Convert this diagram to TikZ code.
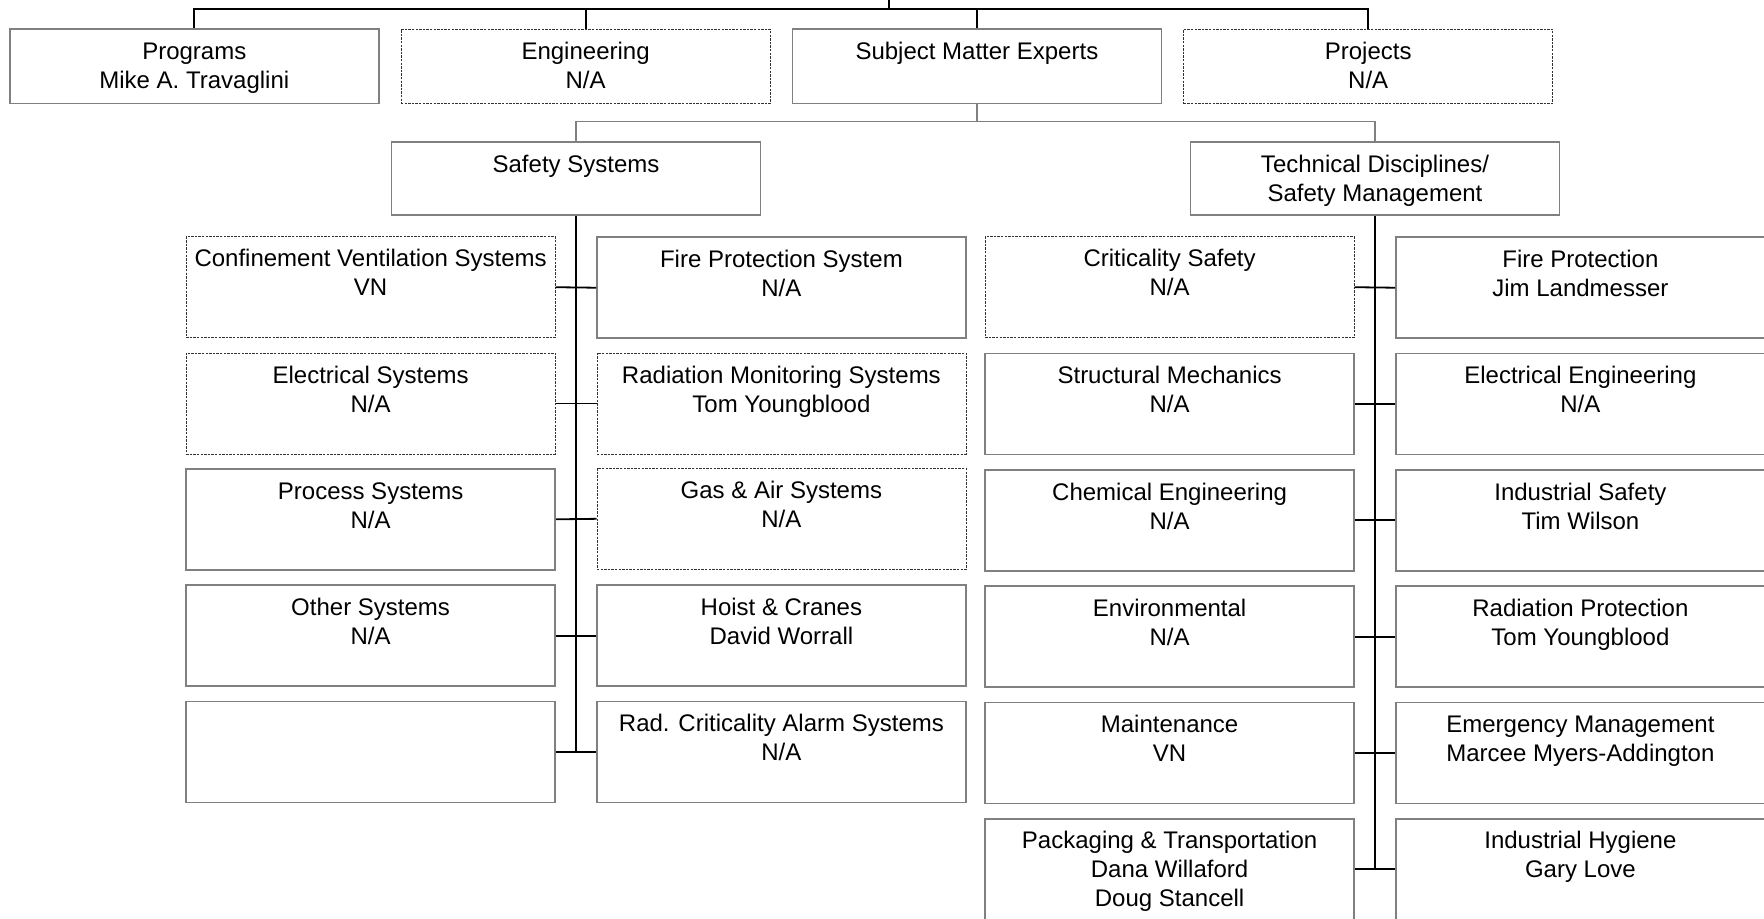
\documentclass[tikz,border=0pt]{standalone}
\usepackage{fontspec}
\setmainfont{Liberation Sans}
\usetikzlibrary{positioning}

% top-aligned text in a box of fixed size
\newcommand{\orgcell}[2][50.5pt]{\parbox[c][#1][t]{184.5pt}{\centering\rule{0pt}{15.1pt}#2}}

\begin{document}
\begin{tikzpicture}[x=1pt, y=1pt, font=\fontsize{12}{14.5}\selectfont,
  unit/.style={draw=black!50, line width=0.9pt, inner sep=0pt, fill=white},
  vacant/.style={draw=black!80, line width=0.4pt, dash pattern=on 1.2pt off 0.6pt},
  link/.style={line width=0.9pt},
  sublink/.style={draw=black!50, line width=0.9pt}]

  \useasboundingbox (0,0) rectangle (882,-459);

  \matrix[nodes={unit}, column sep=10.5pt, inner sep=0pt] at (390.5,-33.125) {
   \node (prog) {\orgcell[37.25pt]{Programs\\Mike A. Travaglini}};
   &
   \node[vacant] (eng) {\orgcell[37.25pt]{Engineering\\N/A}};
   &
   \node (sme) {\orgcell[37.25pt]{Subject Matter Experts}};
   &
   \node[vacant] (proj) {\orgcell[37.25pt]{Projects\\N/A}}; \\
  };

  \node[unit] (sys) at (288,-89.25) {\orgcell[36.5pt]{Safety Systems}};
  \node[unit] (tech) at (687.5,-89.25) {\orgcell[36.5pt]{Technical Disciplines/\\Safety Management}};

  \matrix (safe) [below=10pt of sys, nodes={unit}, row sep=6.75pt, column sep=20pt, inner sep=0pt] {
   \node[vacant] (cvs) {\orgcell{Confinement Ventilation Systems\\VN}}; &
   \node (fps) {\orgcell{Fire Protection System\\N/A}}; \\
   \node[vacant] (els) {\orgcell{Electrical Systems\\N/A}}; &
   \node[vacant] (rms) {\orgcell{Radiation Monitoring Systems\\Tom Youngblood}}; \\
   \node (prs) {\orgcell{Process Systems\\N/A}}; &
   \node[vacant] (gas) {\orgcell{Gas \& Air Systems\\N/A}}; \\
   \node (oth) {\orgcell{Other Systems\\N/A}}; &
   \node (hoist) {\orgcell{Hoist \& Cranes\\David Worrall}}; \\
   \node (blank) {\orgcell{}}; &
   \node (rcas) {\orgcell{Rad. Criticality Alarm Systems\\N/A}}; \\
  };

  \matrix (disc) [below=10pt of tech, nodes={unit}, row sep=6.75pt, column sep=20pt, inner sep=0pt] {
   \node[vacant] (crit) {\orgcell{Criticality Safety\\N/A}}; &
   \node (fire) {\orgcell{Fire Protection\\Jim Landmesser}}; \\
   \node (struct) {\orgcell{Structural Mechanics\\N/A}}; &
   \node (eleng) {\orgcell{Electrical Engineering\\N/A}}; \\
   \node (chem) {\orgcell{Chemical Engineering\\N/A}}; &
   \node (indsaf) {\orgcell{Industrial Safety\\Tim Wilson}}; \\
   \node (env) {\orgcell{Environmental\\N/A}}; &
   \node (radprot) {\orgcell{Radiation Protection\\Tom Youngblood}}; \\
   \node (maint) {\orgcell{Maintenance\\VN}}; &
   \node (emerg) {\orgcell{Emergency Management\\Marcee Myers-Addington}}; \\
   \node (pack) {\orgcell{Packaging \& Transportation\\Dana Willaford\\Doug Stancell}}; &
   \node (hyg) {\orgcell{Industrial Hygiene\\Gary Love}}; \\
  };

  % top bus
  \coordinate (top) at (444.5,0);
  \coordinate (bus) at (0,-4.5);
  \draw[link] (prog.north) |- (proj.north |- bus) -- (proj.north);
  \draw[link] (eng.north) -- (eng.north |- bus);
  \draw[link] (sme.north) -- (sme.north |- bus);
  \draw[link] (top) -- (top |- bus);

  % experts split
  \coordinate (split) at (0,-60.75);
  \draw[sublink] (sme.south) -- (sme.south |- split);
  \draw[sublink] (sys.north) |- (tech.north |- split) -- (tech.north);

  % trunks and stubs
  \draw[link] (sys.south) -- (sys.south |- blank.east);
  \draw[link] (tech.south) -- (tech.south |- pack.east);
  \foreach \lft/\rgt in {cvs/fps, els/rms, prs/gas, oth/hoist, blank/rcas,
    crit/fire, struct/eleng, chem/indsaf, env/radprot, maint/emerg, pack/hyg}
    \draw[link] (\lft.east) -- (\rgt.west);
\end{tikzpicture}
\end{document}
